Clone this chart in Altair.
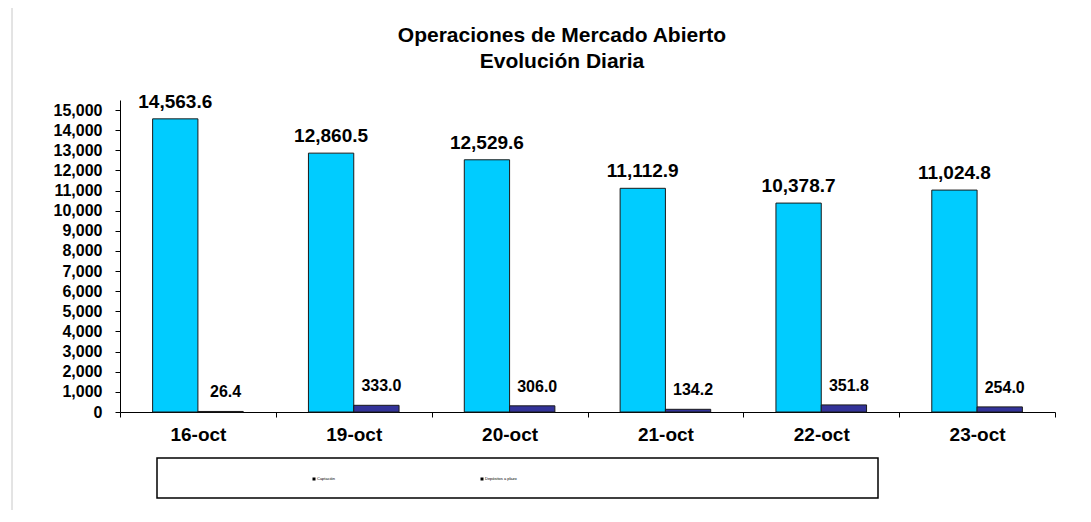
import altair as alt
import pandas as pd

categories = ["16-oct", "19-oct", "20-oct", "21-oct", "22-oct", "23-oct"]
series_names = ["Captación", "Depósitos a plazo"]
serie_a = [14563.6, 12860.5, 12529.6, 11112.9, 10378.7, 11024.8]
serie_b = [26.4, 333.0, 306.0, 134.2, 351.8, 254.0]
y_ticks = list(range(0, 15001, 1000))
title_lines = ["Operaciones de Mercado Abierto", "Evolución Diaria"]
colors = ["#00CCFF", "#333399"]

rows = []
for c, a, b in zip(categories, serie_a, serie_b):
    rows.append({"fecha": c, "serie": series_names[0], "valor": a})
    rows.append({"fecha": c, "serie": series_names[1], "valor": b})
df = pd.DataFrame(rows)
one = pd.DataFrame({"k": [0]})

FONT = "Liberation Sans"
W, H = 935, 312

x = alt.X(
    "fecha:N", sort=categories,
    scale=alt.Scale(paddingInner=0, paddingOuter=0),
    axis=alt.Axis(title=None, labelAngle=0, labelFont=FONT, labelFontSize=19,
                  labelFontWeight="bold", labelColor="black", domainColor="black",
                  tickColor="black", tickSize=5, tickBand="extent", labelPadding=8,
                  grid=False),
)
xo = alt.XOffset("serie:N", sort=series_names,
                 scale=alt.Scale(domain=series_names, paddingOuter=0.72, paddingInner=0))
y = alt.Y(
    "valor:Q", scale=alt.Scale(domain=[0, 15500], nice=False),
    axis=alt.Axis(title=None, values=y_ticks, format=",.0f", labelFont=FONT, labelFontSize=16,
                  labelFontWeight="bold", labelColor="black", domainColor="black",
                  tickColor="black", tickSize=5, labelPadding=13, grid=False),
)

base = alt.Chart(df)
bars = base.mark_bar(stroke="#1a1a1a", strokeWidth=1).encode(
    x=x, xOffset=xo, y=y,
    color=alt.Color("serie:N", scale=alt.Scale(domain=series_names, range=colors), legend=None),
)
labels_a = base.transform_filter(alt.datum.serie == series_names[0]).mark_text(
    font=FONT, fontSize=19, fontWeight="bold", baseline="alphabetic", dy=-11, color="black"
).encode(x=x, xOffset=xo, y=y, text=alt.Text("valor:Q", format=",.1f"))
labels_b = base.transform_filter(alt.datum.serie == series_names[1]).mark_text(
    font=FONT, fontSize=16, fontWeight="bold", baseline="alphabetic", dy=-14, dx=5, color="black"
).encode(x=x, xOffset=xo, y=y, text=alt.Text("valor:Q", format=",.1f"))

oc = alt.Chart(one)
title1 = oc.mark_text(font=FONT, fontSize=21, fontWeight="bold", baseline="alphabetic",
                      align="center", color="black").encode(
    x=alt.value(442), y=alt.value(-58.5), text=alt.value(title_lines[0]))
title2 = oc.mark_text(font=FONT, fontSize=21, fontWeight="bold", baseline="alphabetic",
                      align="center", color="black").encode(
    x=alt.value(442), y=alt.value(-32.5), text=alt.value(title_lines[1]))

legend_box = oc.mark_rect(fill="white", stroke="black", strokeWidth=1.5).encode(
    x=alt.value(37), x2=alt.value(758), y=alt.value(358), y2=alt.value(398))
leg_sq1 = oc.mark_square(size=9, color="black", opacity=1).encode(
    x=alt.value(194), y=alt.value(379))
leg_sq2 = oc.mark_square(size=9, color="black", opacity=1).encode(
    x=alt.value(362), y=alt.value(379))
leg_t1 = oc.mark_text(font=FONT, fontSize=4, align="left", baseline="middle", color="black").encode(
    x=alt.value(197), y=alt.value(379), text=alt.value(series_names[0]))
leg_t2 = oc.mark_text(font=FONT, fontSize=4, align="left", baseline="middle", color="black").encode(
    x=alt.value(365), y=alt.value(379), text=alt.value(series_names[1]))

border = oc.mark_rule(color="#c8c8c8", strokeWidth=1).encode(
    x=alt.value(-108), y=alt.value(-100), y2=alt.value(410))

chart = alt.layer(
    border, bars, labels_a, labels_b, title1, title2,
    legend_box, leg_sq1, leg_sq2, leg_t1, leg_t2,
).properties(
    width=W, height=H,
    padding={"left": 112, "top": 92, "right": 28, "bottom": 100},
    autosize=alt.AutoSizeParams(type="none"),
).configure(
    font=FONT, background="white",
).configure_view(strokeWidth=0, stroke="transparent")

chart.save("out.html", embed_options={"renderer": "svg", "actions": False})
